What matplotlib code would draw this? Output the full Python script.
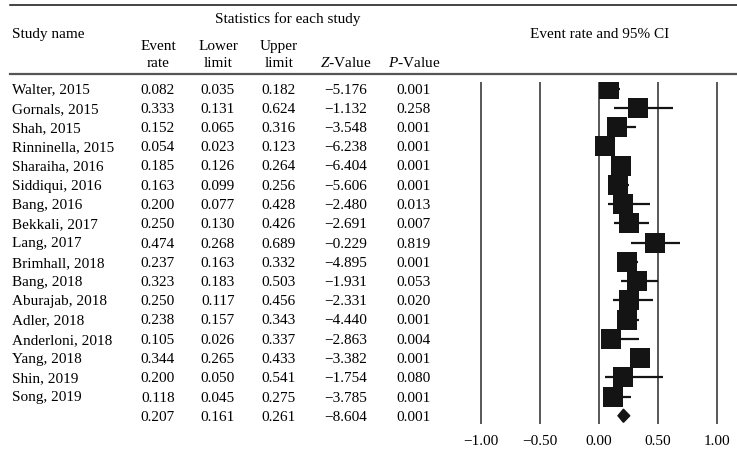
import matplotlib
matplotlib.use("Agg")
import matplotlib.pyplot as plt

# study data
studies = ["Walter, 2015", "Gornals, 2015", "Shah, 2015", "Rinninella, 2015",
           "Sharaiha, 2016", "Siddiqui, 2016", "Bang, 2016", "Bekkali, 2017",
           "Lang, 2017", "Brimhall, 2018", "Bang, 2018", "Aburajab, 2018",
           "Adler, 2018", "Anderloni, 2018", "Yang, 2018", "Shin, 2019", "Song, 2019"]
event_rate = [0.082, 0.333, 0.152, 0.054, 0.185, 0.163, 0.200, 0.250, 0.474,
              0.237, 0.323, 0.250, 0.238, 0.105, 0.344, 0.200, 0.118]
lower = [0.035, 0.131, 0.065, 0.023, 0.126, 0.099, 0.077, 0.130, 0.268,
         0.163, 0.183, 0.117, 0.157, 0.026, 0.265, 0.050, 0.045]
upper = [0.182, 0.624, 0.316, 0.123, 0.264, 0.256, 0.428, 0.426, 0.689,
         0.332, 0.503, 0.456, 0.343, 0.337, 0.433, 0.541, 0.275]
z_value = [-5.176, -1.132, -3.548, -6.238, -6.404, -5.606, -2.480, -2.691, -0.229,
           -4.895, -1.931, -2.331, -4.440, -2.863, -3.382, -1.754, -3.785]
p_value = [0.001, 0.258, 0.001, 0.001, 0.001, 0.001, 0.013, 0.007, 0.819,
           0.001, 0.053, 0.020, 0.001, 0.004, 0.001, 0.080, 0.001]
pooled = [0.207, 0.161, 0.261, -8.604, 0.001]
x_ticks = [-1.0, -0.5, 0.0, 0.5, 1.0]

plt.rcParams["font.family"] = ["Liberation Serif", "DejaVu Serif"]
plt.rcParams["mathtext.fontset"] = "custom"
plt.rcParams["mathtext.it"] = "Liberation Serif:italic"
plt.rcParams["mathtext.rm"] = "Liberation Serif"
FS = 11
W, H = 737, 453
fig = plt.figure(figsize=(W / 100, H / 100), dpi=100)

# table part, laid out in pixel units
tab = fig.add_axes([0, 0, 1, 1])
tab.set_xlim(0, W)
tab.set_ylim(H, 0)
tab.axis("off")

row0, rowh = 88.5, 19.25
cols = [158, 218, 279, 346, 414]


def txt(x, y, s, ha="center"):
    tab.text(x, y, s, ha=ha, va="baseline", fontsize=FS)


tab.plot([10, W], [4.5, 4.5], color="#111111", lw=1.1)
tab.plot([10, W], [74, 74], color="#555555", lw=1.6)
txt(288, 23.5, "Statistics for each study")
txt(12, 38, "Study name", ha="left")
txt(600, 38, "Event rate and 95% CI")
for x, top, bot in zip(cols[:3], ["Event", "Lower", "Upper"], ["rate", "limit", "limit"]):
    txt(x, 50, top)
    txt(x, 67, bot)
txt(cols[3], 67, r"$Z\mathrm{\text{-}Value}$")
txt(cols[4], 67, r"$P\mathrm{\text{-}Value}$")


def fmt(v):
    return f"{v:.3f}".replace("-", "\u2212")


rows = list(zip(studies, event_rate, lower, upper, z_value, p_value))
rows.append(("", *pooled))
for i, r in enumerate(rows):
    y = row0 + i * rowh + 5
    txt(12, y, r[0], ha="left")
    for x, v in zip(cols, r[1:]):
        txt(x, y, fmt(v))

# forest part
px_per_unit = 118.0
x0, x1 = -1.2, 1.15
left_px = 481 - (-1.0 - x0) * px_per_unit
top_px, bot_px = 82, 424
y_top = (top_px - row0) / rowh
y_bot = (bot_px - row0) / rowh
ax = fig.add_axes([left_px / W, (H - bot_px) / H,
                   (x1 - x0) * px_per_unit / W, (bot_px - top_px) / H])
ax.set_xlim(x0, x1)
ax.set_ylim(y_bot, y_top)
for s in ax.spines.values():
    s.set_visible(False)
ax.set_yticks([])
for t in x_ticks:
    ax.axvline(t, color="#2a2a2a", lw=1.1, zorder=1)
ax.set_xticks(x_ticks)
ax.set_xticklabels([f"{t:.2f}".replace("-", "\u2212") for t in x_ticks], fontsize=FS)
ax.tick_params(axis="x", length=0, pad=8)
ax.patch.set_alpha(0)

idx = list(range(len(studies)))
ax.hlines(idx, lower, upper, color="#141414", lw=1.6, zorder=2)
ax.plot(event_rate, idx, "s", color="#141414", ms=15, mew=0, zorder=3)
k = len(studies)
est, lo, hi = pooled[0], pooled[1], pooled[2]
ax.fill([lo, est, hi, est], [k, k - 0.34, k, k + 0.34], color="#141414", zorder=3)

fig.savefig("out.png", dpi=100)
